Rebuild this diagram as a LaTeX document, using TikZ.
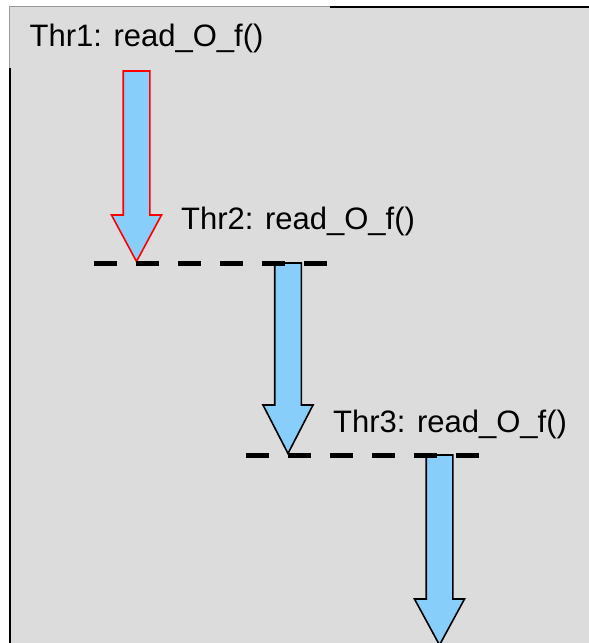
\documentclass[tikz,border=0pt]{standalone}
\usepackage{fontspec}
\setmainfont{Liberation Sans}
\definecolor{panelgray}{RGB}{220,220,220}
\definecolor{flowblue}{RGB}{135,206,250}
\tikzset{
  panel/.style={fill=panelgray, draw=none},
  frameline/.style={draw=black, line width=2.5pt},
  faintedge/.style={draw=gray!80, line width=0.8pt},
  flowarrow/.style={fill=flowblue, draw=black, line width=1.6pt, line join=miter},
  firstarrow/.style={flowarrow, draw=red},
  barrier/.style={draw=black, line width=5pt, dash pattern=on 23pt off 19pt},
  label/.style={font=\fontsize{31}{36}\selectfont, inner sep=0pt, anchor=base west}
}
% downward block arrow: shaft x-centre, shaft top, head top, tip
\newcommand{\blockarrow}[5]{%
  \draw[#1] (#2-13.3,#3) -- (#2+13.3,#3) -- (#2+13.3,#4) -- (#2+25,#4)
    -- (#2,#5) -- (#2-25,#4) -- (#2-13.3,#4) -- cycle;}
\begin{document}
\begin{tikzpicture}[x=1pt, y=-1pt]
  \useasboundingbox (0,0) rectangle (589,643);
  % background panel and its visible edges
  \fill[panel] (9,6) rectangle (589,643);
  \draw[faintedge] (9,643) -- (9,6) -- (331,6);
  \draw[frameline] (330,7) -- (589,7);
  \draw[frameline] (10.2,68) -- (10.2,643);

  % three threads, each entering after the previous one
  \blockarrow{firstarrow}{136.5}{71}{215}{261.5}
  \blockarrow{flowarrow}{288}{263}{405}{453.5}
  \blockarrow{flowarrow}{439.5}{455}{599}{645}

  % barriers
  \coordinate (b1s) at (94,263);
  \coordinate (b1e) at (330,263);
  \coordinate (b2s) at (246,455);
  \coordinate (b2e) at (482,455);
  \draw[barrier] (b1s) -- (b1e);
  \draw[barrier] (b2s) -- (b2e);

  % thread labels
  \node[label] (t1) at (29.5,46) {Thr1: read\_O\_f()};
  \node[label] (t2) at (181,229.5) {Thr2: read\_O\_f()};
  \node[label] (t3) at (333,432) {Thr3: read\_O\_f()};
\end{tikzpicture}
\end{document}
